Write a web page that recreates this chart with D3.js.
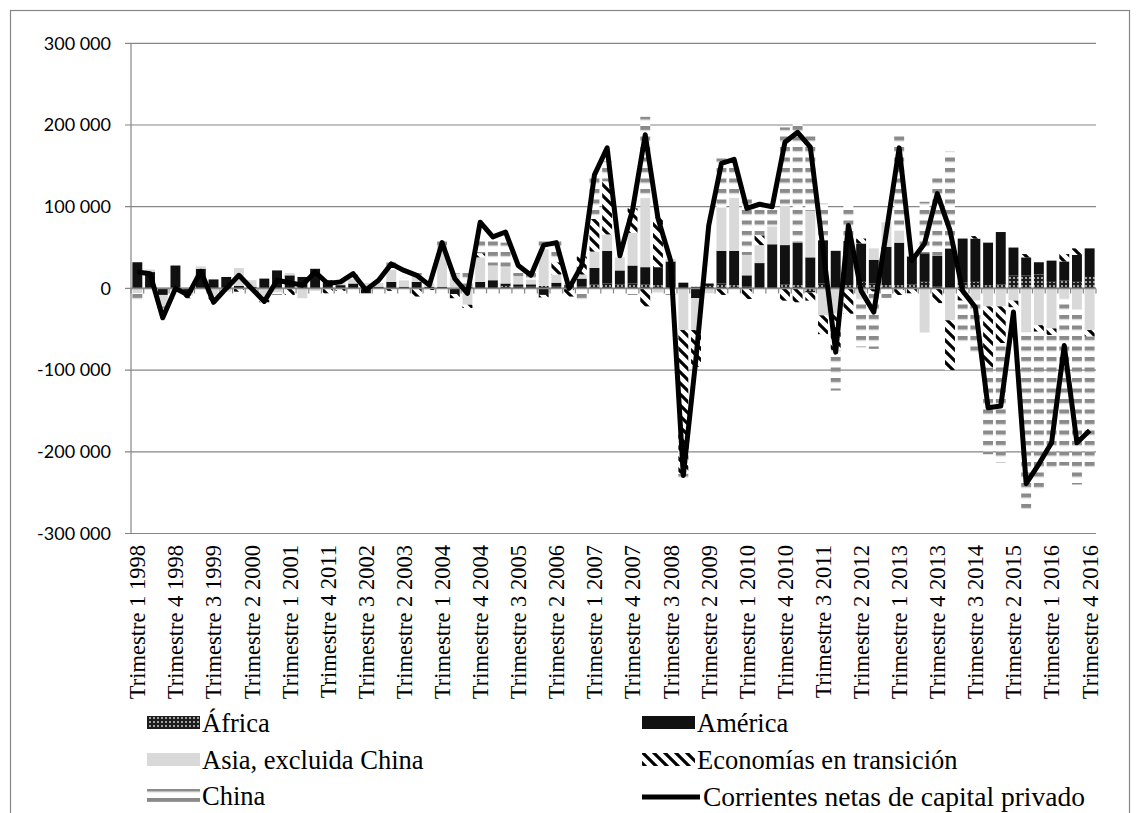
<!DOCTYPE html>
<html>
<head>
<meta charset="utf-8">
<script src="https://cdn.jsdelivr.net/npm/d3@7"></script>
<style>
  body { margin: 0; background: #fff; }
</style>
</head>
<body>
<script>
// quarterly values, Q1 1998 .. Q4 2016 (76 quarters)
var africa = [0,0,0,0,0,0,0,0,0,0,0,0,0,0,0,0,0,0,0,0,0,0,0,0,
  0,0,0,0,0,3000,2000,2000,3000,2000,2000,2000,5000,6000,5000,6000,5000,4000,0,0,2000,3000,
  6000,4000,2000,0,0,5000,4000,-5000,6000,0,4000,8000,6000,4000,4000,5000,8000,2000,0,7000,
  8000,4000,5000,16000,16000,17000,8000,10000,8000,14000];
var america = [32000,20000,-8000,28000,-5000,24000,11000,14000,3000,2000,12000,22000,16000,14000,24000,10000,4000,6000,-6000,2000,8000,2000,8000,2000,
  2000,-7000,2000,8000,10000,3000,3000,3000,-8000,5000,2000,10000,20000,40000,17000,22000,21000,22000,33000,7000,-12000,3000,
  40000,42000,14000,31000,54000,48000,52000,38000,53000,46000,54000,47000,29000,47000,52000,34000,35000,38000,49000,54000,
  53000,52000,64000,34000,22000,15000,26000,23000,33000,35000];
var asia = [-6000,3000,-14000,-3000,-4000,3000,-10000,-4000,22000,8000,-14000,-5000,3000,-12000,-3000,0,4000,6000,6000,5000,15000,8000,8000,4000,
  50000,18000,-20000,30000,18000,20000,10000,6000,45000,10000,2000,5000,20000,20000,16000,40000,85000,-5000,3000,-51000,-39000,-6000,
  53000,65000,25000,22000,22000,48000,0,57000,-33000,-31000,0,-12000,14000,30000,15000,0,-54000,0,-39000,0,
  -15000,-22000,-22000,-15000,-54000,-45000,-49000,-12000,-25000,-51000];
var transicion = [0,0,0,0,-3000,0,-5000,0,-4000,0,-3000,0,-8000,0,0,-6000,-3000,0,0,0,-3000,0,-10000,-2000,
  0,-5000,-4000,5000,0,0,0,0,-3000,15000,-10000,22000,40000,65000,0,30000,-22000,61000,0,-176000,-45000,0,
  -8000,0,-13000,12000,0,-15000,-17000,-10000,-23000,-45000,-31000,6000,-4000,0,-8000,-6000,0,-18000,-61000,-15000,
  3000,-75000,-45000,-8000,4000,-8000,-8000,9000,8000,-8000];
var china = [-8000,-3000,-6000,-2000,0,0,0,0,0,-4000,0,-3000,2000,0,0,0,0,5000,3000,3000,12000,3000,8000,0,
  6000,6000,18000,20000,31000,30000,10000,8000,15000,28000,5000,-15000,54000,25000,0,-8000,99000,0,-8000,-8000,0,0,
  60000,43000,72000,37000,22000,96000,145000,96000,45000,-49000,43000,-60000,-70000,-12000,120000,0,63000,99000,119000,-53000,
  -67000,-106000,-146000,0,-216000,-197000,-163000,-205000,-215000,-160000];
var netas = [20000,18000,-36000,0,-8000,21000,-17000,0,16000,0,-16000,10000,7000,4000,20000,6000,8000,18000,-2000,10000,30000,22000,16000,4000,
  56000,12000,-6000,81000,63000,69000,28000,16000,53000,56000,0,28000,139000,172000,40000,96000,188000,86000,34000,-229000,-85000,77000,
  153000,158000,98000,103000,100000,179000,191000,173000,48000,-78000,77000,-3000,-29000,70000,172000,34000,55000,116000,71000,-3000,
  -23000,-146000,-144000,-29000,-239000,-215000,-189000,-70000,-189000,-174000];

var tickLabels = ["Trimestre 1 1998","Trimestre 4 1998","Trimestre 3 1999","Trimestre 2 2000","Trimestre 1 2001",
  "Trimestre 4 2011","Trimestre 3 2002","Trimestre 2 2003","Trimestre 1 2004","Trimestre 4 2004","Trimestre 3 2005",
  "Trimestre 2 2006","Trimestre 1 2007","Trimestre 4 2007","Trimestre 3 2008","Trimestre 2 2009","Trimestre 1 2010",
  "Trimestre 4 2010","Trimestre 3 2011","Trimestre 2 2012","Trimestre 1 2013","Trimestre 4 2013","Trimestre 3 2014",
  "Trimestre 2 2015","Trimestre 1 2016","Trimestre 4 2016"];
var yTicks = [-300000,-200000,-100000,0,100000,200000,300000];

var seriesNames = ["África","América","Asia, excluida China","Economías en transición","China"];
var seriesData = [africa, america, asia, transicion, china];
var lineName = "Corrientes netas de capital privado";

// categories: one per quarter
var categories = [];
for (var yr = 1998; yr <= 2016; yr++) {
  for (var q = 1; q <= 4; q++) categories.push("Trimestre " + q + " " + yr);
}

var rows = categories.map(function(c, i) {
  var r = {cat: c, idx: i};
  seriesNames.forEach(function(n, k) { r[n] = seriesData[k][i]; });
  return r;
});

var W = 1140, H = 813;
var plotL = 131, plotR = 1096, plotT = 43.3, plotB = 533.5;
var grid = "#868686";

var svg = d3.select("body").append("svg")
  .attr("width", W).attr("height", H);

// patterns
var defs = svg.append("defs");
var pa = defs.append("pattern").attr("id", "p-africa")
  .attr("patternUnits", "userSpaceOnUse").attr("width", 4).attr("height", 4);
pa.append("rect").attr("width", 4).attr("height", 4).attr("fill", "#1c1c1c");
pa.append("rect").attr("x", 1.2).attr("y", 1.2).attr("width", 1.6).attr("height", 1.6).attr("fill", "#e8e8e8");

var pt = defs.append("pattern").attr("id", "p-trans")
  .attr("patternUnits", "userSpaceOnUse").attr("width", 11).attr("height", 11);
pt.append("rect").attr("width", 11).attr("height", 11).attr("fill", "#fff");
pt.append("path").attr("d", "M0,0L11,11M-5.5,5.5L5.5,16.5M5.5,-5.5L16.5,5.5")
  .attr("stroke", "#000").attr("stroke-width", 3.2);

var pc = defs.append("pattern").attr("id", "p-china")
  .attr("patternUnits", "userSpaceOnUse").attr("width", 10).attr("height", 10.5);
pc.append("rect").attr("width", 10).attr("height", 10.5).attr("fill", "#fff");
pc.append("rect").attr("y", 0).attr("width", 10).attr("height", 3.8).attr("fill", "#8a8a8a");
pc.append("rect").attr("y", 3.8).attr("width", 10).attr("height", 1.2).attr("fill", "#d4d4d4");

var fills = ["url(#p-africa)", "#111", "#d9d9d9", "url(#p-trans)", "url(#p-china)"];

// outer frame
svg.append("rect").attr("x", 10.5).attr("y", 10.5).attr("width", 1119).attr("height", 830)
  .attr("fill", "none").attr("stroke", grid).attr("stroke-width", 1.2);

var x = d3.scaleBand().domain(d3.range(categories.length)).range([plotL, plotR])
  .paddingInner(0.22).paddingOuter(0.11);
var y = d3.scaleLinear().domain([-300000, 300000]).range([plotB, plotT]);

var loc = d3.formatLocale({decimal: ",", thousands: " ", grouping: [3], currency: ["", ""], minus: "-"});
var fmt = loc.format(",");

// gridlines + y labels
svg.append("g").selectAll("line").data(yTicks).enter().append("line")
  .attr("x1", plotL - 6).attr("x2", plotR)
  .attr("y1", function(d) { return y(d); }).attr("y2", function(d) { return y(d); })
  .attr("stroke", grid).attr("stroke-width", 1.2);
svg.append("line").attr("x1", plotL).attr("x2", plotL).attr("y1", plotT).attr("y2", plotB)
  .attr("stroke", grid).attr("stroke-width", 1.2);
svg.append("g").selectAll("text").data(yTicks).enter().append("text")
  .attr("x", 111).attr("y", function(d) { return y(d); }).attr("dy", "0.35em")
  .attr("text-anchor", "end").attr("font-family", "Lato, 'Liberation Sans', sans-serif")
  .attr("font-size", 18).attr("fill", "#000")
  .text(function(d) { return fmt(d); });

// stacked bars
var stack = d3.stack().keys(seriesNames).offset(d3.stackOffsetDiverging);
var layers = stack(rows);
svg.append("g").selectAll("g").data(layers).enter().append("g")
  .attr("fill", function(d, i) { return fills[i]; })
  .selectAll("rect").data(function(d) { return d; }).enter().append("rect")
  .attr("x", function(d) { return x(d.data.idx); })
  .attr("width", x.bandwidth())
  .attr("y", function(d) { return y(Math.max(d[0], d[1])); })
  .attr("height", function(d) { return Math.abs(y(d[0]) - y(d[1])); });

// x axis at zero
var y0 = y(0);
svg.append("line").attr("x1", plotL).attr("x2", plotR).attr("y1", y0).attr("y2", y0)
  .attr("stroke", grid).attr("stroke-width", 1.8);
svg.append("g").selectAll("line").data(d3.range(categories.length + 1)).enter().append("line")
  .attr("x1", function(i) { return plotL + i * (plotR - plotL) / categories.length; })
  .attr("x2", function(i) { return plotL + i * (plotR - plotL) / categories.length; })
  .attr("y1", y0).attr("y2", y0 + 5)
  .attr("stroke", grid).attr("stroke-width", 1.2);

// net flows line
var line = d3.line()
  .x(function(d, i) { return x(i) + x.bandwidth() / 2; })
  .y(function(d) { return y(d); });
svg.append("path").datum(netas).attr("d", line)
  .attr("fill", "none").attr("stroke", "#000").attr("stroke-width", 5)
  .attr("stroke-linejoin", "round");

// x labels, every third quarter
svg.append("g").selectAll("text").data(tickLabels).enter().append("text")
  .attr("transform", function(d, k) {
    return "translate(" + (x(k * 3) + x.bandwidth() / 2) + ",545) rotate(-90)";
  })
  .attr("dy", "0.35em").attr("text-anchor", "end")
  .attr("font-family", "'Liberation Serif', serif").attr("font-size", 22.5)
  .text(function(d) { return d; });

// legend
var legendItems = [
  {name: seriesNames[0], fill: fills[0], x: 147, y: 716},
  {name: seriesNames[1], fill: fills[1], x: 642, y: 716},
  {name: seriesNames[2], fill: fills[2], x: 147, y: 753},
  {name: seriesNames[3], fill: fills[3], x: 642, y: 753},
  {name: seriesNames[4], fill: fills[4], x: 147, y: 789}
];
var lg = svg.append("g").attr("font-family", "'Liberation Serif', serif").attr("font-size", 26.5);
legendItems.forEach(function(it) {
  lg.append("rect").attr("x", it.x).attr("y", it.y).attr("width", 53).attr("height", 13).attr("fill", it.fill);
  lg.append("text").attr("x", it.x + 55).attr("y", it.y + 16).text(it.name);
});
lg.append("line").attr("x1", 642).attr("x2", 700).attr("y1", 797).attr("y2", 797)
  .attr("stroke", "#000").attr("stroke-width", 5);
lg.append("text").attr("x", 703).attr("y", 806).attr("textLength", 382).attr("lengthAdjust", "spacingAndGlyphs").text(lineName);
</script>
</body>
</html>
